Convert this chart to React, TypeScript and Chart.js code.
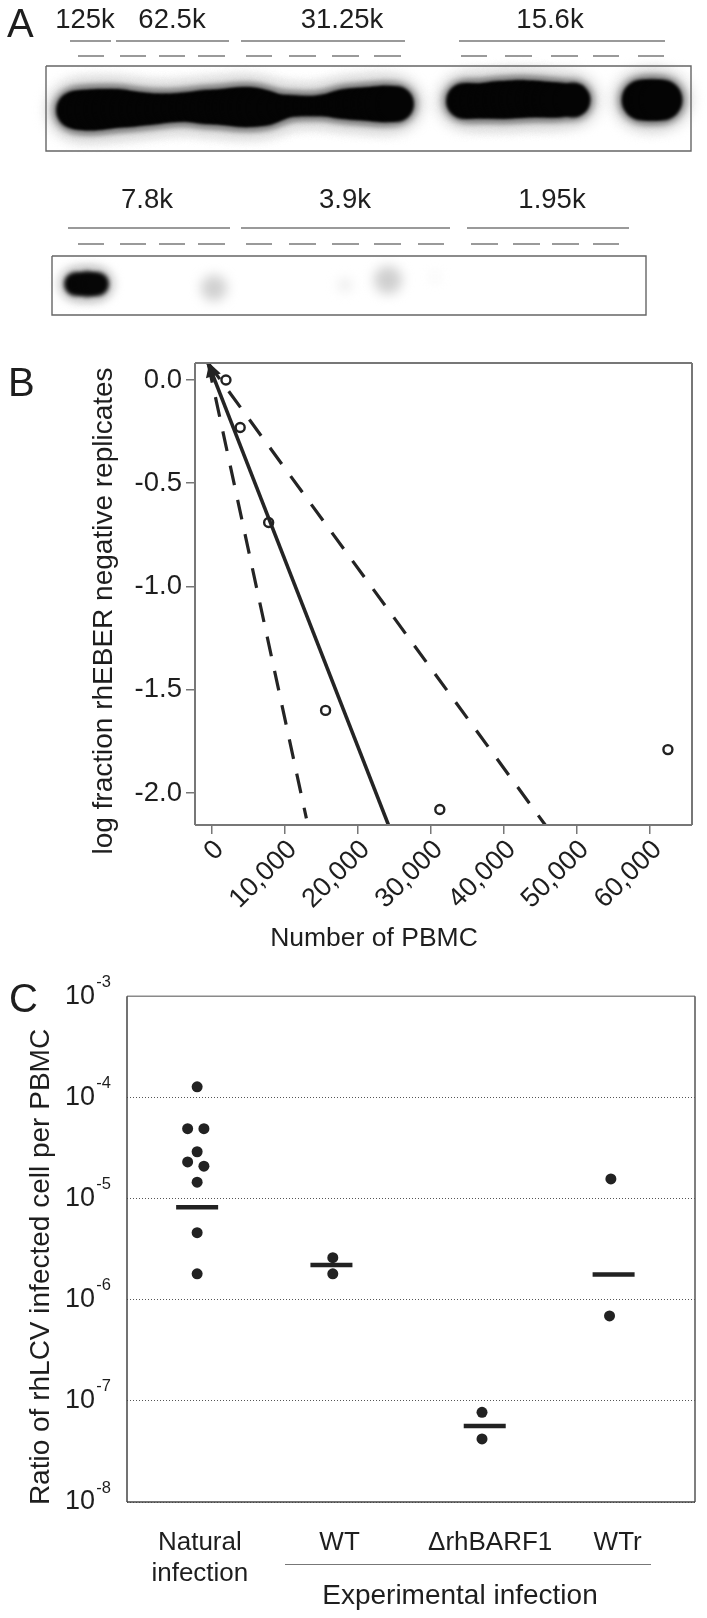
import React, { useEffect, useRef } from "react";
import Chart from "chart.js/auto";

const FONT = "'Liberation Sans', Arial, sans-serif";
const INK = "#1e1e1e";

// ---- Panel A: blot (positions along the membrane, per lane strip)
const upperBand = [[75,110,19],[82,110,20],[90,110,20.5],[98,109.5,20.5],[106,109,20],[114,108.5,19.5],[122,108.5,19],[130,109,18],[138,109,17],[146,109,16.3],[154,109,15.5],[162,108.5,15],[170,108,14.6],[178,107.5,14.5],[186,107,14.8],[194,107,15.5],[202,107,16.8],[210,107,17.3],[218,107,17.6],[226,107,18.3],[234,107,19.3],[242,107,20],[250,107,20],[258,107.5,19],[266,108,17.5],[274,108,14.5],[282,107,12.5],[290,106,11.3],[298,106,10.7],[306,106,10.5],[314,106,10.5],[322,105.5,11],[330,105,12],[338,104.5,14],[346,104,15.3],[354,104,16],[362,104,16.4],[370,104,17],[378,104,17.8],[386,104,18.5],[396,104,18]];
const upperBand2 = [[464,101,18],[472,101,17.7],[480,101,17.6],[488,100.5,18],[496,100,18.8],[504,100,19],[512,99.5,19],[520,99,19],[528,99,18.6],[536,99,18.2],[544,99.5,18],[552,100,17.7],[560,100,17.5],[573,100,17.5]];
const upperSpot = [[642,100,20.5],[652,100,21],[662,100,20.5]];
const lowerDark = [[76,284,11],[87,284,12],[97,284,11]];
const lowerFaint = [[214,288,13],[388,280,14],[345,285,7],[435,277,4]];
const lowerFaintShade = ["#d0d0d0", "#cfcfcf", "#ececec", "#f0f0f0"];
const doseUpper = ["125k", "62.5k", "31.25k", "15.6k"];
const doseUpperX = [85, 172, 342, 550];
const doseLower = ["7.8k", "3.9k", "1.95k"];
const doseLowerX = [147, 345, 552];
const bracketsUpper = [[70,111],[116,229],[241,405],[459,665]];
const bracketsLower = [[68,230],[241,450],[467,629]];
const dashesUpper = [[78,104],[120,146],[159,185],[198,225],[246,272],[289,316],[332,359],[374,401],[461,487],[505,532],[551,578],[593,619],[638,664]];
const dashesLower = [[78,104],[120,146],[159,185],[198,225],[246,272],[289,316],[332,359],[374,401],[418,444],[471,498],[513,540],[552,579],[593,619]];
const boxUpper = [46, 691, 66, 151];
const boxLower = [52, 646, 256, 315];

// ---- Panel B
const pbmcCells = [1950, 3900, 7800, 15600, 31250, 62500];
const logFraction = [0, -0.23, -0.69, -1.6, -2.08, -1.79];
const fitLine = [[-500, 0.082], [24220, -2.155]];
const lowerCI = [[-500, 0.082], [12970, -2.123]];
const upperCI = [[-500, 0.082], [45700, -2.155]];
const arrowTip = [[40, 0.04]];
const bXTicks = [0, 10000, 20000, 30000, 40000, 50000, 60000];
const bYTicks = [0, -0.5, -1, -1.5, -2];

// ---- Panel C
const groupLabels: (string | string[])[] = [["Natural", "infection"], "WT", "ΔrhBARF1", "WTr"];
const groupLabelX = [1.02, 2.05, 3.16, 4.1];
const cX = [1, 0.93, 1.05, 1, 0.93, 1.05, 1, 1, 1, 2, 2, 3.1, 3.1, 4.05, 4.04];
const cY = [1.27e-4, 4.9e-5, 4.9e-5, 2.9e-5, 2.3e-5, 2.09e-5, 1.45e-5, 4.6e-6, 1.8e-6, 2.6e-6, 1.8e-6, 7.7e-8, 4.2e-8, 1.56e-5, 6.9e-7];
const meanX = [1, 1.99, 3.12, 4.07];
const meanY = [8.2e-6, 2.2e-6, 5.65e-8, 1.77e-6];
const cDecades = [1e-3, 1e-4, 1e-5, 1e-6, 1e-7, 1e-8];
const cExponents = ["-3", "-4", "-5", "-6", "-7", "-8"];

const xy = (a: number[][]) => a.map(([x, y]) => ({ x, y }));
const bub = (a: number[][], grow = 0) => a.map(([x, y, r]) => ({ x, y, r: r + grow }));
const segs = (a: number[][], y: number) =>
  a.flatMap(([s, e]) => [{ x: s, y }, { x: e, y }, { x: NaN, y: NaN }]);
const rect = ([l, r, t, b]: number[]) => [
  { x: l, y: t }, { x: r, y: t }, { x: r, y: b }, { x: l, y: b }, { x: l, y: t },
];

const blurPlugin = {
  id: "blur",
  beforeDatasetDraw(chart: any, args: any) {
    const b = chart.data.datasets[args.index].blur;
    chart.ctx.save();
    if (b) chart.ctx.filter = `blur(${b}px)`;
  },
  afterDatasetDraw(chart: any) {
    chart.ctx.restore();
  },
};

const doseLabels = {
  id: "doseLabels",
  afterDraw(chart: any) {
    const { ctx, scales } = chart;
    ctx.save();
    ctx.fillStyle = INK;
    ctx.font = `27.5px ${FONT}`;
    ctx.textAlign = "center";
    ctx.textBaseline = "middle";
    doseUpper.forEach((t, i) => ctx.fillText(t, scales.x.getPixelForValue(doseUpperX[i]), scales.y.getPixelForValue(20)));
    doseLower.forEach((t, i) => ctx.fillText(t, scales.x.getPixelForValue(doseLowerX[i]), scales.y.getPixelForValue(200)));
    ctx.restore();
  },
};

const frame = (left: string, top: string, right: string, bottom: string, w: number) => ({
  id: "frame",
  afterDatasetsDraw(chart: any) {
    const { ctx, chartArea: a } = chart;
    const line = (c: string, x1: number, y1: number, x2: number, y2: number) => {
      ctx.strokeStyle = c;
      ctx.lineWidth = w;
      ctx.beginPath();
      ctx.moveTo(x1, y1);
      ctx.lineTo(x2, y2);
      ctx.stroke();
    };
    ctx.save();
    line(top, a.left, a.top, a.right, a.top);
    line(right, a.right, a.top, a.right, a.bottom);
    line(bottom, a.left, a.bottom, a.right, a.bottom);
    line(left, a.left, a.top, a.left, a.bottom);
    ctx.restore();
  },
});

const exponents = {
  id: "exponents",
  afterDraw(chart: any) {
    const { ctx, scales } = chart;
    ctx.save();
    ctx.fillStyle = INK;
    ctx.font = `16.5px ${FONT}`;
    ctx.textAlign = "right";
    ctx.textBaseline = "middle";
    cDecades.forEach((v, i) => ctx.fillText(cExponents[i], 111, scales.y.getPixelForValue(v) - 14));
    ctx.restore();
  },
};

const rotatedTitle = (text: string, x: number, y: number, size: number) => ({
  id: "rotatedTitle",
  afterDraw(chart: any) {
    const { ctx } = chart;
    ctx.save();
    ctx.translate(x, y);
    ctx.rotate(-Math.PI / 2);
    ctx.fillStyle = INK;
    ctx.font = `${size}px ${FONT}`;
    ctx.textAlign = "center";
    ctx.textBaseline = "middle";
    ctx.fillText(text, 0, 0);
    ctx.restore();
  },
});

function useChart(make: (c: HTMLCanvasElement) => any) {
  const ref = useRef<HTMLCanvasElement>(null);
  useEffect(() => {
    const c = make(ref.current!);
    return () => c.destroy();
  }, []);
  return ref;
}

const base = {
  animation: false as const,
  responsive: false,
  events: [] as any[],
  plugins: { legend: { display: false }, tooltip: { enabled: false } },
};

function makeA(canvas: HTMLCanvasElement) {
  const grey = "#7a7a7a";
  const all = [...upperBand, ...upperBand2, ...upperSpot];
  const mk = (data: any, color: any, blur: number, order: number) => ({
    type: "bubble" as const, data, backgroundColor: color, borderWidth: 0, blur, order,
  });
  const ln = (data: any, color: string, w: number) => ({
    type: "line" as const, data, borderColor: color, borderWidth: w, pointRadius: 0, order: 0, spanGaps: false,
  });
  return new Chart(canvas, {
    data: {
      datasets: [
        mk(bub(all, 11), "#e2e2e2", 6, 3),
        mk(bub(all, 4), "#8a8a8a", 3, 2),
        mk(bub(all, 0), "#040404", 1.5, 1),
        mk(bub(lowerDark, 7), "#cccccc", 4, 3),
        mk(bub(lowerDark, 1), "#060606", 2, 1),
        mk(bub(lowerFaint), lowerFaintShade, 6, 2),
        ln(rect(boxUpper), "#666666", 1.4),
        ln(rect(boxLower), "#666666", 1.4),
        ln([...segs(bracketsUpper, 41), ...segs(bracketsLower, 228)], grey, 1.4),
        ln([...segs(dashesUpper, 56), ...segs(dashesLower, 244)], grey, 1.4),
      ] as any,
    },
    options: {
      ...base,
      layout: { padding: 0, autoPadding: false },
      scales: {
        x: { type: "linear", display: false, min: 0, max: 707 },
        y: { type: "linear", display: false, min: 0, max: 340, reverse: true },
      },
    } as any,
    plugins: [blurPlugin, doseLabels],
  });
}

function makeB(canvas: HTMLCanvasElement) {
  const grey = "#777777";
  const ln = (d: number[][], dash: number[], w: number) => ({
    type: "line" as const, data: xy(d), borderColor: "#242424", borderWidth: w,
    borderDash: dash, pointRadius: 0, clip: false as any, order: 2,
  });
  return new Chart(canvas, {
    data: {
      datasets: [
        {
          type: "scatter", data: pbmcCells.map((x, i) => ({ x, y: logFraction[i] })),
          borderColor: "#222222", backgroundColor: "rgba(0,0,0,0)", borderWidth: 2.4, pointRadius: 4.5, order: 1,
        },
        ln(fitLine, [], 3.5),
        ln(lowerCI, [20, 15], 3.2),
        ln(upperCI, [20, 15], 3.2),
        {
          type: "scatter", data: xy(arrowTip), pointStyle: "triangle", rotation: -18, pointRadius: 9,
          backgroundColor: "#222222", borderColor: "#222222", borderWidth: 0, order: 1,
        },
      ] as any,
    },
    options: {
      ...base,
      layout: { padding: { left: 83, top: 23, right: 15, bottom: 2 }, autoPadding: false },
      scales: {
        x: {
          type: "linear", min: -2290, max: 65800,
          afterBuildTicks: (s: any) => { s.ticks = bXTicks.map((value) => ({ value })); },
          afterFit: (s: any) => { s.height = 133; },
          grid: { drawOnChartArea: false, tickLength: 9, color: grey, lineWidth: 1.5 },
          border: { display: false },
          ticks: {
            autoSkip: false, minRotation: 45, maxRotation: 45, padding: 0, labelOffset: 8, color: INK,
            font: { size: 27, family: FONT },
            callback: (v: any) => Number(v).toLocaleString("en-US"),
          },
        },
        y: {
          type: "linear", min: -2.155, max: 0.082,
          afterBuildTicks: (s: any) => { s.ticks = bYTicks.map((value) => ({ value })); },
          afterFit: (s: any) => { s.width = 112; },
          grid: { drawOnChartArea: false, tickLength: 9, color: grey, lineWidth: 1.5 },
          border: { display: false },
          ticks: {
            autoSkip: false, padding: 4, color: INK, font: { size: 27.5, family: FONT },
            callback: (v: any) => Number(v).toFixed(1),
          },
        },
      },
    } as any,
    plugins: [frame(grey, grey, grey, grey, 2), rotatedTitle("log fraction rhEBER negative replicates", 104, 271, 28)],
  });
}

function makeC(canvas: HTMLCanvasElement) {
  return new Chart(canvas, {
    data: {
      datasets: [
        {
          type: "scatter", data: meanX.map((x, i) => ({ x, y: meanY[i] })), pointStyle: "line",
          pointRadius: 21, borderWidth: 4.5, borderColor: "#222222", order: 1,
        },
        {
          type: "scatter", data: cX.map((x, i) => ({ x, y: cY[i] })), pointRadius: 5.5,
          backgroundColor: "#222222", borderWidth: 0, order: 2,
        },
      ] as any,
    },
    options: {
      ...base,
      layout: { padding: { left: 20, top: 27, right: 12, bottom: 0 }, autoPadding: false },
      scales: {
        x: {
          type: "linear", min: 0.483, max: 4.67,
          afterBuildTicks: (s: any) => { s.ticks = groupLabelX.map((value) => ({ value })); },
          afterFit: (s: any) => { s.height = 116; },
          grid: { display: false },
          border: { display: false },
          ticks: {
            autoSkip: false, minRotation: 0, maxRotation: 0, padding: 17, color: INK,
            font: { size: 26, family: FONT },
            callback: (_v: any, i: number) => groupLabels[i],
          },
        },
        y: {
          type: "logarithmic", min: 1e-8, max: 1e-3,
          afterBuildTicks: (s: any) => { s.ticks = cDecades.map((value) => ({ value })); },
          afterFit: (s: any) => { s.width = 107; },
          grid: { color: "#555555", lineWidth: 1, drawTicks: false, tickLength: 0 },
          border: { display: false, dash: [1, 2] },
          ticks: {
            autoSkip: false, padding: 32, color: INK, font: { size: 27, family: FONT },
            callback: () => "10",
          },
        },
      },
    } as any,
    plugins: [
      frame("#444444", "#8a8a8a", "#555555", "#444444", 1.5),
      exponents,
      rotatedTitle("Ratio of rhLCV infected cell per PBMC", 41, 319, 28),
    ],
  });
}

const abs = (left: number, top: number): React.CSSProperties => ({ position: "absolute", left, top, display: "block" });
const letter = (left: number, top: number): React.CSSProperties => ({
  ...abs(left, top), font: `40px/40px ${FONT}`, color: INK,
});

export default function App() {
  const a = useChart(makeA);
  const b = useChart(makeB);
  const c = useChart(makeC);
  return (
    <div style={{ position: "absolute", left: 0, top: 0, width: 707, height: 1618, overflow: "hidden", background: "#fff" }}>
      <canvas ref={a} width={707} height={340} style={abs(0, 0)} />
      <canvas ref={b} width={707} height={620} style={abs(0, 340)} />
      <canvas ref={c} width={707} height={670} style={abs(0, 948)} />
      <div style={letter(7, 3)}>A</div>
      <div style={letter(8, 362)}>B</div>
      <div style={letter(9, 978)}>C</div>
      <div style={{ position: "absolute", left: 214, width: 320, top: 922, textAlign: "center", font: `26.5px/30px ${FONT}`, color: INK, whiteSpace: "nowrap" }}>
        Number of PBMC
      </div>
      <div style={{ position: "absolute", left: 285, top: 1564, width: 366, height: 1, background: "#777" }} />
      <div style={{ position: "absolute", left: 300, width: 320, top: 1580, textAlign: "center", font: `28px/30px ${FONT}`, color: INK, whiteSpace: "nowrap" }}>
        Experimental infection
      </div>
    </div>
  );
}
